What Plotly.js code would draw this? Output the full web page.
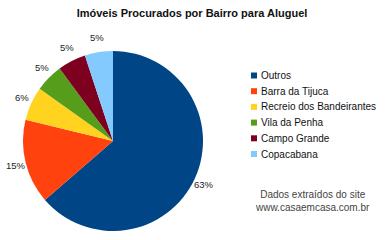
<!DOCTYPE html>
<html><head><meta charset="utf-8">
<script src="https://cdn.plot.ly/plotly-3.0.1.min.js"></script>
<style>html,body{margin:0;padding:0;background:#fff}#c{width:385px;height:240px}</style>
</head><body><div id="c"></div>
<script>
const bairros = ["Outros", "Barra da Tijuca", "Recreio dos Bandeirantes", "Vila da Penha", "Campo Grande", "Copacabana"];
const percentuais = [63, 15, 6, 5, 5, 5];
const cores = ["#004586", "#ff420e", "#ffd320", "#579d1c", "#7e0021", "#83caff"];

const W = 385, H = 240;
const FONT = "Liberation Sans, Arial, sans-serif";
const CX = 113, CY = 141, R = 90;   // pie centre / radius in px
const LRX = 100, LRY = 105;         // distance of the percentage labels from the centre

const pie = {
  type: "pie",
  labels: bairros,
  values: percentuais,
  marker: {colors: cores},
  sort: false,
  direction: "clockwise",
  rotation: 0,
  textinfo: "none",
  hoverinfo: "none",
  showlegend: false,
  domain: {x: [(CX - R) / W, (CX + R) / W], y: [1 - (CY + R) / H, 1 - (CY - R) / H]}
};

const shapes = [];
const annotations = [];

// percentage labels, placed at the mid-angle of each slice (derived from the values)
const total = percentuais.reduce((a, b) => a + b, 0);
let cum = 0;
percentuais.forEach((v) => {
  const mid = (cum + v / 2) / total * 2 * Math.PI;
  cum += v;
  const px = CX + LRX * Math.sin(mid);
  const py = CY - LRY * Math.cos(mid);
  annotations.push({text: v + "%", xref: "paper", yref: "paper", x: px / W, y: 1 - py / H,
    xanchor: "center", yanchor: "middle", showarrow: false,
    font: {family: FONT, size: 9.5, color: "#222"}});
});

// legend built from the category / colour arrays
const legX = 251, legY0 = 75.5, legStep = 15.7, sq = 6;
bairros.forEach((b, i) => {
  const cy = legY0 + i * legStep;
  shapes.push({type: "rect", xref: "paper", yref: "paper",
    x0: legX / W, x1: (legX + sq) / W, y0: 1 - (cy + sq / 2) / H, y1: 1 - (cy - sq / 2) / H,
    fillcolor: cores[i], line: {width: 0}});
  annotations.push({text: b, xref: "paper", yref: "paper", x: (legX + sq + 2) / W, y: 1 - cy / H,
    xanchor: "left", yanchor: "middle", showarrow: false,
    font: {family: FONT, size: 10, color: "#111"}});
});
annotations.push({text: "Dados extraídos do site<br>www.casaemcasa.com.br", x: 312 / W, y: 1 - 201 / H,
  xref: "paper", yref: "paper", xanchor: "center", yanchor: "middle", showarrow: false,
  font: {family: FONT, size: 10, color: "#444"}});

const layout = {
  width: W, height: H,
  margin: {l: 0, r: 0, t: 0, b: 0},
  paper_bgcolor: "#fff",
  title: {text: "Imóveis Procurados por Bairro para Aluguel", x: 192 / W, xanchor: "center", y: 1 - 13.5 / H, yanchor: "middle",
          font: {family: FONT, size: 11, color: "#111", weight: "bold"}},
  showlegend: false,
  shapes: shapes,
  annotations: annotations
};
Plotly.newPlot("c", [pie], layout, {staticPlot: true});
</script></body></html>
